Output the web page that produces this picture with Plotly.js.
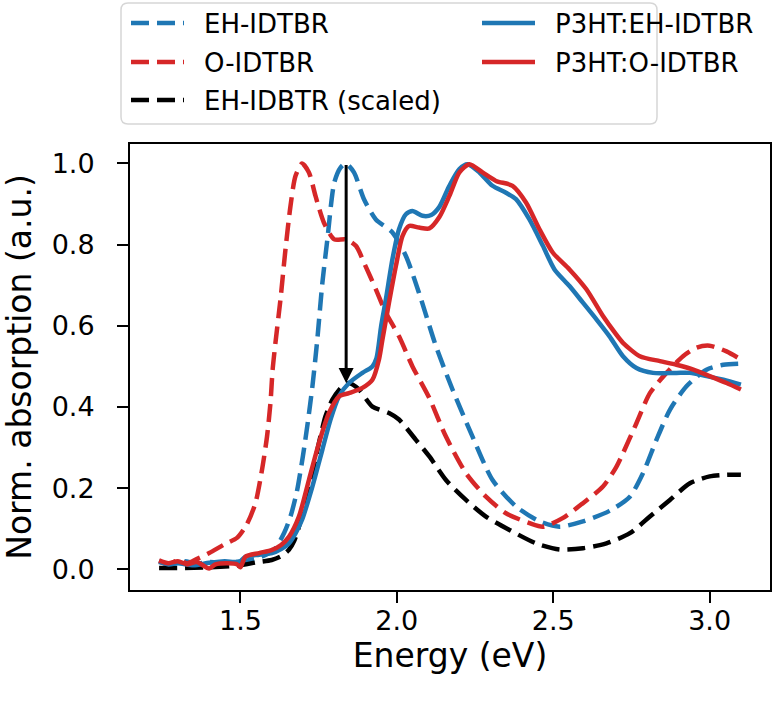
<!DOCTYPE html>
<html>
<head>
<meta charset="utf-8">
<script src="https://cdn.plot.ly/plotly-3.0.1.min.js"></script>
<style>
  html, body { margin: 0; padding: 0; background: #ffffff; }
  #chart { width: 782px; height: 702px; }
</style>
</head>
<body>
<div id="chart"></div>
<script>
// Normalised UV-vis absorption spectra versus photon energy

// Neat EH-IDTBR film
const ehEnergy = [1.24,1.28,1.32,1.36,1.40,1.45,1.50,1.55,1.58,1.61,1.64,1.66,1.68,1.70,1.715,1.73,1.745,1.762,1.778,1.80,1.82,1.837,1.863,1.895,1.933,1.986,2.029,2.071,2.125,2.178,2.242,2.306,2.381,2.456,2.52,2.595,2.68,2.745,2.787,2.83,2.873,2.926,2.99,3.044,3.10];
const ehAbs = [0.018,0.013,0.020,0.014,0.018,0.016,0.019,0.026,0.035,0.050,0.090,0.130,0.190,0.280,0.360,0.450,0.560,0.706,0.813,0.953,0.990,1.000,0.978,0.912,0.862,0.830,0.772,0.681,0.550,0.443,0.327,0.220,0.155,0.118,0.105,0.118,0.144,0.179,0.237,0.319,0.393,0.451,0.492,0.504,0.507];

// Neat O-IDTBR film
const oEnergy = [1.24,1.27,1.30,1.33,1.36,1.40,1.45,1.49,1.52,1.548,1.569,1.585,1.596,1.603,1.612,1.628,1.644,1.66,1.676,1.697,1.719,1.74,1.767,1.80,1.837,1.869,1.90,1.933,1.965,2.007,2.05,2.104,2.157,2.221,2.285,2.349,2.424,2.467,2.53,2.595,2.659,2.70,2.723,2.766,2.809,2.862,2.915,2.958,3.00,3.054,3.10];
const oAbs = [0.020,0.012,0.022,0.015,0.025,0.040,0.062,0.078,0.110,0.163,0.245,0.327,0.410,0.492,0.558,0.665,0.788,0.895,0.969,1.000,0.978,0.920,0.854,0.813,0.813,0.797,0.747,0.690,0.632,0.574,0.500,0.422,0.327,0.237,0.179,0.138,0.114,0.105,0.126,0.163,0.204,0.250,0.286,0.360,0.434,0.484,0.525,0.546,0.551,0.537,0.517];

// EH-IDBTR, scaled to the blend
const ehScaledEnergy = [1.24,1.30,1.40,1.50,1.55,1.60,1.63,1.655,1.672,1.687,1.708,1.73,1.751,1.772,1.794,1.826,1.847,1.879,1.922,1.975,2.007,2.061,2.104,2.157,2.221,2.285,2.36,2.445,2.52,2.595,2.67,2.745,2.809,2.873,2.937,3.00,3.054,3.10];
const ehScaledAbs = [0.003,0.003,0.005,0.010,0.017,0.023,0.032,0.048,0.070,0.105,0.171,0.237,0.311,0.377,0.418,0.451,0.459,0.443,0.401,0.385,0.369,0.319,0.278,0.220,0.171,0.130,0.097,0.064,0.049,0.052,0.064,0.089,0.130,0.171,0.212,0.229,0.233,0.233];

// P3HT:EH-IDTBR blend
const blendEhEnergy = [1.24,1.27,1.30,1.35,1.40,1.45,1.48,1.50,1.516,1.56,1.601,1.63,1.655,1.677,1.697,1.73,1.762,1.788,1.815,1.847,1.89,1.922,1.935,1.95,1.965,1.986,2.007,2.029,2.05,2.082,2.11,2.136,2.168,2.20,2.226,2.264,2.306,2.349,2.381,2.424,2.467,2.504,2.552,2.595,2.638,2.68,2.723,2.766,2.819,2.894,2.937,2.99,3.044,3.10];
const blendEhAbs = [0.020,0.012,0.015,0.010,0.016,0.020,0.018,0.020,0.031,0.036,0.040,0.050,0.064,0.090,0.122,0.204,0.295,0.369,0.426,0.459,0.484,0.500,0.520,0.600,0.665,0.764,0.838,0.875,0.883,0.871,0.873,0.893,0.945,0.986,0.998,0.978,0.945,0.928,0.912,0.862,0.797,0.739,0.698,0.657,0.616,0.574,0.525,0.496,0.484,0.484,0.484,0.476,0.467,0.455];

// P3HT:O-IDTBR blend
const blendOEnergy = [1.24,1.27,1.30,1.33,1.36,1.40,1.42,1.46,1.49,1.50,1.516,1.56,1.601,1.63,1.655,1.687,1.719,1.751,1.783,1.815,1.847,1.89,1.922,1.943,1.954,1.975,1.997,2.018,2.039,2.071,2.104,2.136,2.168,2.20,2.232,2.274,2.317,2.37,2.413,2.456,2.499,2.552,2.606,2.659,2.70,2.723,2.777,2.841,2.894,2.948,3.00,3.054,3.10];
const blendOAbs = [0.022,0.015,0.020,0.012,0.018,0.002,0.012,0.015,0.012,0.005,0.031,0.040,0.048,0.060,0.080,0.130,0.220,0.311,0.385,0.426,0.434,0.447,0.467,0.517,0.566,0.657,0.747,0.821,0.846,0.842,0.840,0.868,0.920,0.978,0.998,0.978,0.957,0.945,0.904,0.838,0.780,0.739,0.690,0.624,0.580,0.558,0.525,0.513,0.504,0.492,0.476,0.459,0.443];

// Axis ticks
const xTickVals = [1.5, 2.0, 2.5, 3.0];
const xTickText = ['1.5', '2.0', '2.5', '3.0'];
const yTickVals = [0.0, 0.2, 0.4, 0.6, 0.8, 1.0];
const yTickText = ['0.0', '0.2', '0.4', '0.6', '0.8', '1.0'];

// Arrow marking the drop of the acceptor peak in the blend
const arrowEnergy = 1.838;
const arrowFrom = 1.0;
const arrowTo = 0.459;

const BLUE = '#1f77b4';
const RED = '#d62728';
const BLACK = '#000000';
const FONT = 'DejaVu Sans, Verdana, sans-serif';
const DASH = '18px,8px';
const LW = 4.5;

function spectrum(name, x, y, color, dash) {
  return {
    type: 'scatter', mode: 'lines', name: name, x: x, y: y,
    line: { color: color, width: LW, dash: dash, shape: 'spline', smoothing: 0.7 },
    showlegend: false
  };
}

const traces = [
  spectrum('EH-IDTBR', ehEnergy, ehAbs, BLUE, DASH),
  spectrum('O-IDTBR', oEnergy, oAbs, RED, DASH),
  spectrum('EH-IDBTR (scaled)', ehScaledEnergy, ehScaledAbs, BLACK, DASH),
  spectrum('P3HT:EH-IDTBR', blendEhEnergy, blendEhAbs, BLUE, 'solid'),
  spectrum('P3HT:O-IDTBR', blendOEnergy, blendOAbs, RED, 'solid')
];

// Figure geometry (pixels) used to place the legend box above the axes
const W = 782, H = 702;
const M = { l: 130, r: 12, t: 144, b: 112 };
const PW = W - M.l - M.r, PH = H - M.t - M.b;
const px = v => (v - M.l) / PW;
const py = v => (H - M.b - v) / PH;

// Legend entries: [label, colour, dash, column, row]
const legendEntries = [
  ['EH-IDTBR', BLUE, DASH, 0, 0],
  ['O-IDTBR', RED, DASH, 0, 1],
  ['EH-IDBTR (scaled)', BLACK, DASH, 0, 2],
  ['P3HT:EH-IDTBR', BLUE, 'solid', 1, 0],
  ['P3HT:O-IDTBR', RED, 'solid', 1, 1]
];
const colLineX = [131, 482];
const rowY = [23, 62, 100];
const sampleLen = 53;
const textGap = 18;

const shapes = [];
const annotations = [];

// Rounded legend frame
(function () {
  const x0 = 121, x1 = 657, y0 = 3, y1 = 124, r = 7;
  const P = (x, y) => px(x) + ',' + py(y);
  const d = 'M' + P(x0 + r, y0) + ' L' + P(x1 - r, y0) + ' Q' + P(x1, y0) + ' ' + P(x1, y0 + r) +
            ' L' + P(x1, y1 - r) + ' Q' + P(x1, y1) + ' ' + P(x1 - r, y1) +
            ' L' + P(x0 + r, y1) + ' Q' + P(x0, y1) + ' ' + P(x0, y1 - r) +
            ' L' + P(x0, y0 + r) + ' Q' + P(x0, y0) + ' ' + P(x0 + r, y0) + ' Z';
  shapes.push({
    type: 'path', xref: 'paper', yref: 'paper', path: d,
    line: { color: '#d6d6d6', width: 1.5 }, fillcolor: 'rgba(255,255,255,0.8)', layer: 'above'
  });
})();

legendEntries.forEach(function (e) {
  const x0 = colLineX[e[3]], y = rowY[e[4]];
  shapes.push({
    type: 'line', xref: 'paper', yref: 'paper',
    x0: px(x0), x1: px(x0 + sampleLen), y0: py(y), y1: py(y),
    line: { color: e[1], width: LW, dash: e[2] }, layer: 'above'
  });
  annotations.push({
    xref: 'paper', yref: 'paper', x: px(x0 + sampleLen + textGap), y: py(y + 1),
    xanchor: 'left', yanchor: 'middle', showarrow: false, text: e[0],
    font: { family: FONT, size: 26, color: '#000000' }
  });
});

annotations.push({
  x: arrowEnergy, y: arrowTo, ax: arrowEnergy, ay: arrowFrom,
  xref: 'x', yref: 'y', axref: 'x', ayref: 'y',
  text: '', showarrow: true, arrowhead: 2, arrowsize: 1.0, arrowwidth: 3,
  arrowcolor: BLACK, standoff: 0, startstandoff: 0
});

const axisCommon = {
  showline: true, mirror: true, linecolor: BLACK, linewidth: 2,
  ticks: 'outside', ticklen: 11, tickwidth: 2, tickcolor: BLACK,
  showgrid: false, zeroline: false, automargin: false,
  tickfont: { family: FONT, size: 27, color: BLACK }
};

const layout = {
  width: W, height: H,
  margin: { l: M.l, r: M.r, t: M.t, b: M.b, pad: 0 },
  paper_bgcolor: '#ffffff', plot_bgcolor: '#ffffff',
  showlegend: false,
  xaxis: Object.assign({}, axisCommon, {
    range: [1.147, 3.193], tickmode: 'array', tickvals: xTickVals, ticktext: xTickText,
    ticklabelstandoff: -5,
    title: { text: 'Energy (eV)', font: { family: FONT, size: 33, color: BLACK }, standoff: 4 }
  }),
  yaxis: Object.assign({}, axisCommon, {
    range: [-0.051, 1.048], tickmode: 'array', tickvals: yTickVals, ticktext: yTickText,
    ticklabelstandoff: 17,
    title: { text: 'Norm. absorption (a.u.)', font: { family: FONT, size: 33, color: BLACK }, standoff: 10 }
  }),
  shapes: shapes,
  annotations: annotations
};

Plotly.newPlot('chart', traces, layout, { displayModeBar: false, staticPlot: true });
</script>
</body>
</html>
